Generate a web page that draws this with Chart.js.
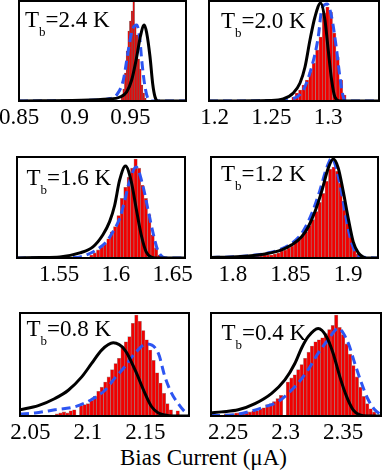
<!DOCTYPE html>
<html><head><meta charset="utf-8">
<script src="https://cdn.jsdelivr.net/npm/chart.js@4"></script>
<style>
html,body{margin:0;padding:0;background:#fff}
body{width:382px;height:476px;overflow:hidden;position:relative;font-family:"Liberation Serif",serif}
canvas{position:absolute}
.lbl{position:absolute;font-family:"Liberation Serif",serif;font-size:23px;line-height:23px;white-space:nowrap;color:#000;z-index:5}
.lbl span{font-size:13px;vertical-align:-9px}
#xt{position:absolute;left:120px;top:446px;font-family:"Liberation Serif",serif;font-size:23px;line-height:23px;white-space:nowrap;color:#000}
</style></head><body>
<div id="xt">Bias Current (μA)</div>
<script>
// ---------- data (heights normalised to panel top = 1) ----------
const temps = ['2.4', '2.0', '1.6', '1.2', '0.8', '0.4'];

// Tb = 2.4 K
const tb24Ticks = ['0.85', '0.9', '0.95'];
const tb24Bins = [0.9425,0.9440,0.9455,0.9470,0.9485,0.9500,0.9515,0.9530,0.9545,0.9560,0.9575,0.9590,0.9605,0.9620,0.9635];
const tb24Counts = [0.05,0.12,0.28,0.50,0.70,0.80,0.90,1.00,0.74,0.66,0.42,0.32,0.16,0.08,0.03];
const tb24FitX = [0.85,0.9317,0.9407,0.9467,0.9512,0.9557,0.9591,0.9625,0.9647,0.9677,0.9701,0.9722,0.9749,1.0];
const tb24FitY = [0,0.02,0.04,0.09,0.21,0.44,0.65,0.76,0.68,0.44,0.17,0.04,0,0];
const tb24SimX = [0.85,0.9228,0.9299,0.9377,0.9437,0.9482,0.9515,0.9557,0.9587,0.9602,0.9632,0.9661,0.9695,1.0];
const tb24SimY = [0,0.01,0.02,0.06,0.21,0.51,0.70,0.76,0.60,0.41,0.14,0.02,0,0];

// Tb = 2.0 K
const tb20Ticks = ['1.2', '1.25', '1.3'];
const tb20Bins = [1.2695,1.2725,1.2755,1.2785,1.2815,1.2845,1.2875,1.2905,1.2935,1.2965,1.2995,1.3025,1.3055,1.3085,1.3115,1.3145];
const tb20Counts = [0.04,0.08,0.11,0.16,0.21,0.29,0.38,0.51,0.64,0.88,0.94,0.89,0.68,0.44,0.21,0.06];
const tb20FitX = [1.195,1.2488,1.2605,1.2694,1.2753,1.2797,1.2841,1.2885,1.2935,1.2973,1.3002,1.3032,1.3061,1.3105,1.345];
const tb20FitY = [0,0.005,0.02,0.08,0.18,0.34,0.61,0.84,0.98,0.81,0.51,0.21,0.04,0,0];
const tb20SimX = [1.195,1.2576,1.2664,1.2724,1.2782,1.2856,1.2914,1.2944,1.2993,1.3032,1.3076,1.3105,1.3135,1.3164,1.345];
const tb20SimY = [0,0.005,0.02,0.04,0.11,0.34,0.64,0.91,0.97,0.84,0.51,0.24,0.04,0,0];

// Tb = 1.6 K
const tb16Ticks = ['1.55', '1.6', '1.65'];
const tb16Bins = [1.5785,1.5815,1.5845,1.5875,1.5905,1.5935,1.5965,1.5995,1.6025,1.6055,1.6085,1.6115,1.6145,1.6175,1.6205,1.6235,1.6265,1.6295,1.6325,1.6355,1.6385];
const tb16Counts = [0.03,0.05,0.08,0.11,0.14,0.19,0.26,0.31,0.42,0.59,0.70,0.80,0.89,0.98,0.89,0.72,0.59,0.43,0.23,0.10,0.03];
const tb16FitX = [1.513,1.5332,1.5507,1.5683,1.5799,1.5887,1.5946,1.5990,1.6034,1.6086,1.6136,1.6180,1.6224,1.6268,1.6312,1.635,1.661];
const tb16FitY = [0,0.005,0.01,0.05,0.11,0.23,0.36,0.52,0.77,0.91,0.76,0.49,0.23,0.06,0.01,0,0];
const tb16SimX = [1.513,1.5654,1.5741,1.5829,1.5917,1.5975,1.6034,1.6077,1.6121,1.6180,1.6238,1.6282,1.6326,1.6369,1.6413,1.6455,1.661];
const tb16SimY = [0,0.005,0.03,0.08,0.16,0.26,0.39,0.56,0.76,0.90,0.72,0.49,0.26,0.08,0.01,0,0];

// Tb = 1.2 K
const tb12Ticks = ['1.8', '1.85', '1.9'];
const tb12Bins = [1.8005,1.8035,1.8065,1.8095,1.8125,1.8155,1.8185,1.8215,1.8245,1.8275,1.8305,1.8335,1.8365,1.8395,1.8425,1.8455,1.8485,1.8515,1.8545,1.8575,1.8605,1.8635,1.8665,1.8695,1.8725,1.8755,1.8785,1.8815,1.8845,1.8875,1.8905,1.8935,1.8965,1.8995,1.9025,1.9055,1.9085,1.9115];
const tb12Counts = [0.005,0.005,0.01,0.01,0.01,0.01,0.02,0.02,0.02,0.03,0.03,0.03,0.04,0.05,0.07,0.08,0.10,0.12,0.15,0.18,0.22,0.26,0.32,0.38,0.46,0.55,0.64,0.76,0.88,0.90,0.86,0.74,0.56,0.38,0.22,0.10,0.04,0.01];
const tb12FitX = [1.781,1.7990,1.8134,1.8279,1.8424,1.8511,1.8597,1.8655,1.8713,1.8771,1.8828,1.8872,1.8915,1.8958,1.9002,1.9045,1.9089,1.9132,1.9173,1.926];
const tb12FitY = [0.005,0.01,0.02,0.04,0.08,0.13,0.21,0.31,0.46,0.66,0.89,0.98,0.89,0.66,0.39,0.16,0.05,0.01,0,0];
const tb12SimX = [1.781,1.7967,1.8115,1.8262,1.8401,1.8488,1.8575,1.8632,1.8692,1.8753,1.8814,1.8860,1.8897,1.8941,1.8984,1.9028,1.9071,1.9115,1.926];
const tb12SimY = [0.005,0.01,0.02,0.04,0.08,0.13,0.21,0.31,0.46,0.66,0.89,0.99,0.89,0.66,0.39,0.16,0.05,0.01,0];

// Tb = 0.8 K
const tb08Ticks = ['2.05', '2.1', '2.15'];
const tb08Bins = [2.0732,2.0762,2.0792,2.0822,2.0852,2.0882,2.0912,2.0942,2.0972,2.1002,2.1032,2.1062,2.1092,2.1122,2.1152,2.1182,2.1212,2.1242,2.1272,2.1302,2.1332,2.1362,2.1392,2.1422,2.1452,2.1482,2.1512,2.1542,2.1572,2.1602,2.1632,2.1662,2.1692,2.1722,2.1752,2.1782];
const tb08Counts = [0.02,0.03,0.04,0.03,0.05,0.06,0,0.10,0.11,0.12,0.15,0.19,0.24,0.28,0.33,0.38,0.45,0.51,0.56,0.67,0.72,0.77,0.90,0.98,0.92,0.83,0.74,0.64,0.54,0.42,0.32,0.22,0.12,0.06,0.01,0.05];
const tb08FitX = [2.041,2.0569,2.0714,2.0830,2.0947,2.1033,2.1120,2.1221,2.1323,2.1410,2.1497,2.1555,2.1613,2.1671,2.1732,2.188];
const tb08FitY = [0.06,0.10,0.17,0.25,0.38,0.51,0.64,0.71,0.64,0.45,0.22,0.09,0.03,0.01,0,0];
const tb08SimX = [2.041,2.0540,2.0714,2.0888,2.1033,2.1149,2.1236,2.1323,2.1410,2.1512,2.1613,2.1671,2.1729,2.1787,2.1845,2.188];
const tb08SimY = [0.02,0.03,0.06,0.09,0.16,0.25,0.37,0.48,0.61,0.70,0.61,0.38,0.22,0.12,0.04,0.01];

// Tb = 0.4 K
const tb04Ticks = ['2.25', '2.3', '2.35'];
const tb04Bins = [2.248,2.251,2.254,2.257,2.260,2.263,2.266,2.269,2.272,2.275,2.278,2.281,2.284,2.287,2.290,2.293,2.296,2.299,2.302,2.305,2.308,2.311,2.314,2.317,2.320,2.323,2.326,2.329,2.332,2.335,2.338,2.341,2.344,2.347,2.350,2.353,2.356,2.359,2.362,2.365,2.368,2.371,2.374,2.377];
const tb04Counts = [0.02,0.02,0.02,0.03,0.03,0.03,0.04,0.04,0.05,0.05,0.07,0.08,0.11,0.12,0.14,0.17,0.20,0,0.33,0.37,0.40,0.45,0.50,0.56,0.62,0.68,0.72,0.74,0.76,0.80,0.84,0.88,0.98,0.86,0.79,0.70,0.60,0.49,0.38,0.28,0.19,0.12,0.07,0.04];
const tb04FitX = [2.235,2.2443,2.2587,2.2733,2.2878,2.2993,2.3080,2.3139,2.3196,2.3283,2.3356,2.3413,2.3472,2.3530,2.3587,2.3646,2.3707,2.383];
const tb04FitY = [0.03,0.04,0.06,0.12,0.22,0.35,0.51,0.66,0.77,0.85,0.77,0.61,0.38,0.19,0.06,0.01,0,0];
const tb04SimX = [2.235,2.2530,2.2674,2.2820,2.2935,2.3022,2.3109,2.3196,2.3283,2.3370,2.3457,2.3544,2.3602,2.3660,2.3718,2.3776,2.3820];
const tb04SimY = [0.005,0.01,0.04,0.09,0.14,0.22,0.32,0.45,0.61,0.74,0.85,0.71,0.51,0.32,0.16,0.06,0.02];

// ---------- layout ----------
const panels = [
  {box:[19,1,186,101],   min:0.85,  max:1.0,   ticks:tb24Ticks, bins:tb24Bins, counts:tb24Counts, fx:tb24FitX, fy:tb24FitY, sx:tb24SimX, sy:tb24SimY, lbl:[25,7.7], edge:'rgba(110,60,60,0.9)'},
  {box:[209,1,379,101],  min:1.195, max:1.345, ticks:tb20Ticks, bins:tb20Bins, counts:tb20Counts, fx:tb20FitX, fy:tb20FitY, sx:tb20SimX, sy:tb20SimY, lbl:[221,9.3]},
  {box:[17,157,185,258], min:1.513, max:1.661, ticks:tb16Ticks, bins:tb16Bins, counts:tb16Counts, fx:tb16FitX, fy:tb16FitY, sx:tb16SimX, sy:tb16SimY, lbl:[26.5,166]},
  {box:[211,157,378,258],min:1.781, max:1.926, ticks:tb12Ticks, bins:tb12Bins, counts:tb12Counts, fx:tb12FitX, fy:tb12FitY, sx:tb12SimX, sy:tb12SimY, lbl:[221,162]},
  {box:[20,313,189,416], min:2.041, max:2.188, ticks:tb08Ticks, bins:tb08Bins, counts:tb08Counts, fx:tb08FitX, fy:tb08FitY, sx:tb08SimX, sy:tb08SimY, lbl:[26.5,317]},
  {box:[211,313,381,416],min:2.235, max:2.383, ticks:tb04Ticks, bins:tb04Bins, counts:tb04Counts, fx:tb04FitX, fy:tb04FitY, sx:tb04SimX, sy:tb04SimY, lbl:[221.5,321]}
];

const framePlugin = {
  id:'frame',
  afterDatasetsDraw(c){
    const a = c.chartArea, ctx = c.ctx;
    ctx.save(); ctx.strokeStyle = '#000'; ctx.lineWidth = 2;
    ctx.strokeRect(a.left, a.top, a.right - a.left, a.bottom - a.top);
    ctx.restore();
  }
};

const PAD = 30, PT = 5, AXH = 32;
panels.forEach((p, idx) => {
  const [l, t, r, b] = p.box;
  const cv = document.createElement('canvas');
  const W = (r - l) + 2 * PAD, H = (b - t) + PT + PT + AXH;
  cv.width = W; cv.height = H;
  cv.style.width = W + 'px'; cv.style.height = H + 'px';
  cv.style.left = (l - PAD) + 'px'; cv.style.top = (t - PT) + 'px';
  document.body.appendChild(cv);

  const d = document.createElement('div');
  d.className = 'lbl';
  d.style.left = p.lbl[0] + 'px'; d.style.top = p.lbl[1] + 'px';
  d.innerHTML = 'T<span>b</span>=' + temps[idx] + ' K';
  document.body.appendChild(d);

  const tickVals = p.ticks.map(Number);
  new Chart(cv, {
    type:'bar',
    data:{datasets:[
      {type:'line', data:p.fx.map((x,i)=>({x, y:p.fy[i]})), borderColor:'#000', borderWidth:3,
       pointRadius:0, cubicInterpolationMode:'monotone', fill:false, order:0},
      {type:'line', data:p.sx.map((x,i)=>({x, y:p.sy[i]})), borderColor:'#2d55f2', borderWidth:3,
       borderDash:[9,5], pointRadius:0, cubicInterpolationMode:'monotone', fill:false, order:1},
      {type:'bar', data:p.bins.map((x,i)=>({x, y:p.counts[i]})), backgroundColor:'#f00000',
       borderColor:p.edge || 'rgba(150,120,120,0.85)', borderWidth:0.6, barPercentage:1, categoryPercentage:1, order:2}
    ]},
    options:{
      responsive:false, animation:false, events:[],
      layout:{padding:{left:PAD, right:PAD, top:PT, bottom:PT}},
      plugins:{legend:{display:false}, tooltip:{enabled:false}},
      scales:{
        x:{type:'linear', min:p.min, max:p.max, offset:false,
           grid:{display:false, drawTicks:false}, border:{display:false},
           afterBuildTicks:s=>{ s.ticks = tickVals.map(v=>({value:v})); },
           afterFit:s=>{ s.height = AXH; },
           ticks:{autoSkip:false, maxRotation:0, minRotation:0, padding:3, color:'#000',
                  font:{family:'Liberation Serif', size:23},
                  callback:(v,i)=>p.ticks[i]}},
        y:{display:false, min:0, max:1}
      }
    },
    plugins:[framePlugin]
  });
});
</script>
</body></html>
